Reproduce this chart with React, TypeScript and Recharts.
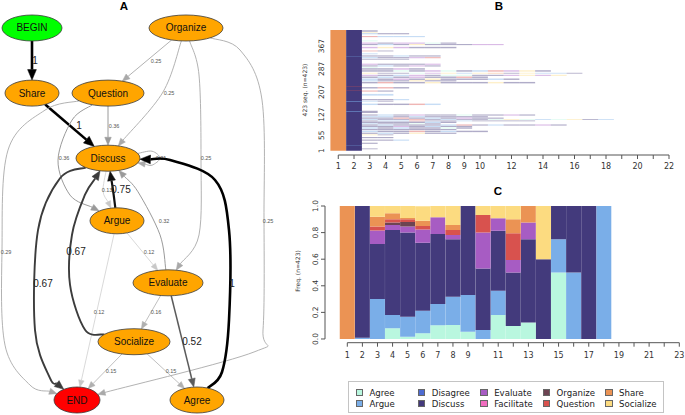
import React from 'react';
import {
  ScatterChart, Scatter, ComposedChart, BarChart, Bar, XAxis, YAxis,
  ReferenceLine, ReferenceArea, Legend,
} from 'recharts';

// ---------------- shared state alphabet ----------------
const STATES = ['Agree', 'Argue', 'Disagree', 'Discuss', 'Evaluate', 'Facilitate', 'Organize', 'Question', 'Share', 'Socialize'];
const STATE_CODE: Record<string, string> = {
  A: 'Agree', R: 'Argue', X: 'Disagree', D: 'Discuss', E: 'Evaluate',
  F: 'Facilitate', O: 'Organize', Q: 'Question', S: 'Share', Z: 'Socialize',
};

// ---------------- Panel A data (transition network) ----------------
const nodeNames = ['BEGIN', 'Organize', 'Share', 'Question', 'Discuss', 'Argue', 'Evaluate', 'Socialize', 'END', 'Agree'];
const nodeCol = [3.2, 18.6, 3.2, 10.8, 10.8, 11.7, 16.8, 13.4, 7.7, 19.7];
const nodeLevel = [0, 0, 1.05, 1.05, 2.1, 3.11, 4.11, 5.06, 6, 6];
const edgeList: [string, string, number][] = [
  ['BEGIN', 'Share', 1],
  ['Share', 'Discuss', 1],
  ['Organize', 'Question', 0.25],
  ['Organize', 'Discuss', 0.25],
  ['Organize', 'Evaluate', 0.25],
  ['Organize', 'END', 0.25],
  ['Question', 'Discuss', 0.36],
  ['Question', 'Argue', 0.36],
  ['Question', 'END', 0.29],
  ['Discuss', 'Discuss', 0.21],
  ['Discuss', 'Argue', 0.13],
  ['Discuss', 'END', 0.67],
  ['Argue', 'Discuss', 0.75],
  ['Argue', 'Evaluate', 0.12],
  ['Argue', 'END', 0.12],
  ['Evaluate', 'Discuss', 0.32],
  ['Evaluate', 'Socialize', 0.16],
  ['Evaluate', 'Agree', 0.52],
  ['Socialize', 'Discuss', 0.67],
  ['Socialize', 'END', 0.15],
  ['Socialize', 'Agree', 0.15],
  ['Agree', 'Discuss', 1],
];

// ---------------- Panel B data (sequence index plot) ----------------
const seqCount = 423;
const seqLeadStates = 'SD'; // positions 1 and 2 of every sequence
// [first seq, last seq, states from position 3 on]
const seqRuns: [number, number, string][] = [
  [418, 422, 'D'],
  [413, 415, 'Z'],
  [409, 412, 'RDD'],
  [399, 402, 'QRRR'],
  [384, 387, 'A'],
  [376, 379, 'EDEEAD'],
  [371, 374, 'DRDZDDDEE'],
  [360, 364, 'EZEDDD'],
  [349, 351, 'QD'],
  [339, 341, 'R'],
  [331, 334, 'DDRDD'],
  [325, 328, 'RDDEQ'],
  [320, 322, 'DDD'],
  [302, 305, 'EDDDE'],
  [296, 299, 'DRDED'],
  [291, 293, 'A'],
  [285, 289, 'DDED'],
  [278, 282, 'DDADEADRQEZD'],
  [271, 273, 'ZDDAEZRZSDZRRD'],
  [263, 266, 'EDREDAADDEZEZ'],
  [256, 260, 'DRDEDDQD'],
  [249, 253, 'RDEDZDDDRD'],
  [244, 247, 'RDDZDD'],
  [237, 241, 'DQDDZDDDZDD'],
  [219, 223, 'DQD'],
  [208, 211, 'QD'],
  [194, 199, 'RR'],
  [178, 181, 'DDR'],
  [173, 175, 'RD'],
  [161, 165, 'RDDQR'],
  [133, 140, 'D'],
  [124, 127, 'DRDEDDADDED'],
  [118, 121, 'RRDRDDDD'],
  [113, 116, 'DDQDRDEDD'],
  [109, 111, 'RDDQDRDDAZARAZDR'],
  [104, 106, 'DRRQDDRDDDD'],
  [98, 102, 'DDDDRD'],
  [94, 96, 'RDDAD'],
  [89, 92, 'DRDDDRQDRDDED'],
  [84, 87, 'DDEDRDD'],
  [78, 82, 'RDRDDAD'],
  [73, 76, 'DDDDDD'],
  [66, 70, 'RDDQDRDD'],
  [60, 63, 'DRDZDD'],
  [55, 57, 'ZD'],
  [45, 48, 'DD'],
  [36, 39, 'DDR'],
  [25, 28, 'D'],
  [6, 8, 'D'],
];
const seqPos2Exceptions: [number, string][] = [[330, 'R'], [225, 'Q'], [210, 'Q'], [172, 'R'], [137, 'R'], [20, 'R']];
const bXTicks = [1, 2, 3, 4, 5, 6, 7, 8, 9, 10, 11, 12, 13, 14, 15, 16, 17, 18, 19, 20, 21, 22];
const bYTicks = [1, 55, 127, 207, 287, 367];

// ---------------- Panel C data (state distribution) ----------------
const positions = [1, 2, 3, 4, 5, 6, 7, 8, 9, 10, 11, 12, 13, 14, 15, 16, 17, 18];
const agreeFreq = [0, 0, 0, 0.08, 0.017, 0.043, 0.103, 0.105, 0.055, 0, 0.18, 0.098, 0.123, 0, 0.5, 0, 0, 0];
const argueFreq = [0, 0.01, 0.30, 0.10, 0.15, 0.17, 0.16, 0.213, 0.275, 0.068, 0.183, 0, 0, 0, 0.25, 0.5, 0, 1];
const disagreeFreq = [0, 0, 0, 0, 0, 0, 0, 0, 0, 0, 0, 0, 0, 0, 0, 0, 0, 0];
const discussFreq = [0, 0.99, 0.415, 0.64, 0.633, 0.511, 0.527, 0.432, 0.67, 0.462, 0.451, 0.401, 0.627, 0.6, 0.25, 0.5, 1, 0];
const evaluateFreq = [0, 0, 0.10, 0.037, 0.045, 0.10, 0.125, 0.032, 0, 0.27, 0.093, 0.095, 0.125, 0, 0, 0, 0, 0];
const facilitateFreq = [0, 0, 0, 0, 0, 0, 0, 0, 0, 0, 0, 0, 0, 0, 0, 0, 0, 0];
const organizeFreq = [0, 0, 0, 0.018, 0.035, 0, 0, 0, 0, 0, 0, 0, 0, 0, 0, 0, 0, 0];
const questionFreq = [0, 0, 0.03, 0.025, 0.02, 0.025, 0, 0.038, 0, 0.132, 0, 0.201, 0, 0, 0, 0, 0, 0];
const shareFreq = [1, 0, 0.075, 0.045, 0.01, 0.04, 0, 0.037, 0, 0, 0, 0.105, 0.125, 0, 0, 0, 0, 0];
const socializeFreq = [0, 0, 0.08, 0.055, 0.09, 0.11, 0.085, 0.143, 0, 0.068, 0.093, 0.10, 0, 0.4, 0, 0, 0, 0];
const cXTicks = [1, 2, 3, 4, 5, 6, 7, 8, 9, 10, 11, 12, 13, 14, 15, 16, 17, 18, 19, 20, 21, 22, 23];
const cYTicks = [0, 0.2, 0.4, 0.6, 0.8, 1.0];

// ---------------- styles ----------------
const STATE_COLORS: Record<string, string> = {
  Agree: '#B9F7DF',
  Argue: '#7AAEE8',
  Disagree: '#4D6BD2',
  Discuss: '#433A7C',
  Evaluate: '#A75CC3',
  Facilitate: '#F06DBF',
  Organize: '#6D4452',
  Question: '#D8524E',
  Share: '#EB9354',
  Socialize: '#FCDB80',
};
const SANS = "'DejaVu Sans', sans-serif";
const HELV = "'Liberation Sans', Arial, sans-serif";

const NODE_STYLE: Record<string, { rx: number; ry: number; fill: string }> = {
  BEGIN: { rx: 30, ry: 13, fill: '#00FF00' },
  Organize: { rx: 37, ry: 13, fill: '#FFA500' },
  Share: { rx: 27, ry: 13, fill: '#FFA500' },
  Question: { rx: 36, ry: 13, fill: '#FFA500' },
  Discuss: { rx: 32, ry: 13, fill: '#FFA500' },
  Argue: { rx: 27, ry: 13, fill: '#FFA500' },
  Evaluate: { rx: 35, ry: 13, fill: '#FFA500' },
  Socialize: { rx: 36, ry: 13, fill: '#FFA500' },
  END: { rx: 23, ry: 13, fill: '#FF0000' },
  Agree: { rx: 27, ry: 13, fill: '#FFA500' },
};
// routing of curved edges: pixel offsets from the source node centre
const EDGE_VIA: Record<string, [number, number][]> = {
  'Organize-Discuss': [[-23, 64]],
  'Organize-Evaluate': [[13, 47], [15, 132], [13, 207]],
  'Organize-END': [[54, 22], [76, 72], [78, 192], [77, 302], [68, 324]],
  'Question-Argue': [[-36, 27], [-50, 67], [-38, 102]],
  'Question-END': [[-63, 17], [-100, 57], [-106, 157], [-103, 252], [-78, 292]],
  'Discuss-Discuss': [[44, -7], [52, 0], [44, 7]],
  'Discuss-Argue': [[-5, 33]],
  'Discuss-END': [[-48, 20], [-70, 72], [-73, 172], [-58, 220]],
  'Argue-Discuss': [[-4, -31]],
  'Evaluate-Discuss': [[-8, -48], [-30, -91]],
  'Socialize-Discuss': [[-49, -12], [-64, -57], [-62, -107], [-49, -147]],
  'Agree-Discuss': [[25, -28], [32, -80], [32, -170], [18, -220], [-27, -240]],
};
// edge label placement: pixel offsets from the source node centre
const EDGE_LABEL: Record<string, [number, number]> = {
  'BEGIN-Share': [3, 33],
  'Share-Discuss': [47, 32],
  'Organize-Question': [-30, 33],
  'Organize-Discuss': [-17, 65],
  'Organize-Evaluate': [20, 130],
  'Organize-END': [82, 193],
  'Question-Discuss': [6, 33],
  'Question-Argue': [-44, 65],
  'Question-END': [-102, 159],
  'Discuss-Discuss': [53, 0],
  'Discuss-Argue': [-1, 32],
  'Discuss-END': [-65, 125],
  'Argue-Discuss': [4, -31],
  'Argue-Evaluate': [32, 31],
  'Argue-END': [-18, 91],
  'Evaluate-Discuss': [-4, -62],
  'Evaluate-Socialize': [-12, 29],
  'Evaluate-Agree': [24, 59],
  'Socialize-Discuss': [-58, -90],
  'Socialize-END': [-23, 29],
  'Socialize-Agree': [37, 29],
  'Agree-Discuss': [35, -117],
};

function edgeLook(w: number) {
  if (w >= 0.9) return { width: 2.6, color: '#000000' };
  if (w >= 0.7) return { width: 2.2, color: '#111111' };
  if (w >= 0.6) return { width: 1.9, color: '#3c3c3c' };
  if (w >= 0.5) return { width: 1.5, color: '#5c5c5c' };
  if (w >= 0.3) return { width: 1.0, color: '#9a9a9a' };
  if (w >= 0.2) return { width: 0.9, color: '#a9a9a9' };
  if (w >= 0.14) return { width: 0.8, color: '#b0b0b0' };
  return { width: 0.7, color: '#c8c8c8' };
}

function boundaryPoint(cx: number, cy: number, tx: number, ty: number, rx: number, ry: number) {
  const dx = tx - cx;
  const dy = ty - cy;
  const len = Math.hypot(dx, dy) || 1;
  const ux = dx / len;
  const uy = dy / len;
  const t = 1 / Math.sqrt((ux / rx) ** 2 + (uy / ry) ** 2);
  return { x: cx + ux * t, y: cy + uy * t };
}

function smoothPath(pts: { x: number; y: number }[]) {
  let d = `M${pts[0].x},${pts[0].y}`;
  if (pts.length === 2) return d + `L${pts[1].x},${pts[1].y}`;
  for (let i = 0; i < pts.length - 1; i++) {
    const p0 = pts[i - 1] || pts[i];
    const p1 = pts[i];
    const p2 = pts[i + 1];
    const p3 = pts[i + 2] || pts[i + 1];
    const c1x = p1.x + (p2.x - p0.x) / 6;
    const c1y = p1.y + (p2.y - p0.y) / 6;
    const c2x = p2.x - (p3.x - p1.x) / 6;
    const c2y = p2.y - (p3.y - p1.y) / 6;
    d += `C${c1x},${c1y} ${c2x},${c2y} ${p2.x},${p2.y}`;
  }
  return d;
}

const EdgeShape = (props: any) => {
  const { x1, y1, x2, y2, edge } = props;
  if ([x1, y1, x2, y2].some((v) => typeof v !== 'number' || isNaN(v))) return null;
  const [from, to, w] = edge as [string, string, number];
  const key = `${from}-${to}`;
  const fs = NODE_STYLE[from];
  const ts = NODE_STYLE[to];
  const via = (EDGE_VIA[key] || []).map(([dx, dy]) => ({ x: x1 + dx, y: y1 + dy }));
  const first = via.length ? via[0] : { x: x2, y: y2 };
  const last = via.length ? via[via.length - 1] : { x: x1, y: y1 };
  const start = boundaryPoint(x1, y1, first.x, first.y, fs.rx, fs.ry);
  const tip = boundaryPoint(x2, y2, last.x, last.y, ts.rx, ts.ry);
  const prev = via.length ? via[via.length - 1] : start;
  const dx = tip.x - prev.x;
  const dy = tip.y - prev.y;
  const len = Math.hypot(dx, dy) || 1;
  const ux = dx / len;
  const uy = dy / len;
  const look = edgeLook(w);
  const aLen = 6.5 + 4 * w;
  const aHalf = 2.6 + 1.8 * w;
  const base = { x: tip.x - ux * aLen, y: tip.y - uy * aLen };
  const path = smoothPath([start, ...via, base]);
  const arrow = `${tip.x},${tip.y} ${base.x - uy * aHalf},${base.y + ux * aHalf} ${base.x + uy * aHalf},${base.y - ux * aHalf}`;
  const lab = EDGE_LABEL[key] || [0, 0];
  const big = w >= 0.5;
  return (
    <g>
      <path d={path} fill="none" stroke={look.color} strokeWidth={look.width} />
      <polygon points={arrow} fill={look.color} stroke={look.color} strokeWidth={0.5} />
      <text
        x={x1 + lab[0]}
        y={y1 + lab[1]}
        textAnchor="middle"
        dominantBaseline="central"
        fontFamily={HELV}
        fontSize={big ? 10 : 5.5}
        fill={big ? '#222222' : '#555555'}
        stroke="none"
      >
        {String(w)}
      </text>
    </g>
  );
};

const NodeShape = (props: any) => {
  const { cx, cy, payload } = props;
  if (typeof cx !== 'number' || typeof cy !== 'number') return null;
  const st = NODE_STYLE[payload.name];
  return (
    <g>
      <ellipse cx={cx} cy={cy} rx={st.rx} ry={st.ry} fill={st.fill} stroke="#3a3a3a" strokeWidth={0.8} />
      <text x={cx} y={cy} textAnchor="middle" dominantBaseline="central" fontFamily={HELV} fontSize={10} fill="#111" stroke="none">
        {payload.name}
      </text>
    </g>
  );
};

const nodeData = nodeNames.map((name, i) => ({ name, x: nodeCol[i], y: nodeLevel[i] }));
const nodeIndex: Record<string, number> = {};
nodeNames.forEach((n, i) => { nodeIndex[n] = i; });

function PanelA() {
  return (
    <ScatterChart width={290} height={415} margin={{ top: 0, right: 0, bottom: 0, left: 0 }}>
      <XAxis type="number" dataKey="x" domain={[0, 29]} allowDataOverflow hide />
      <YAxis type="number" dataKey="y" domain={[-0.4516, 6.2419]} allowDataOverflow reversed hide />
      {edgeList.map((e, i) => {
        const a = nodeIndex[e[0]];
        const b = nodeIndex[e[1]];
        return (
          <ReferenceLine
            key={`e${i}`}
            segment={[{ x: nodeCol[a], y: nodeLevel[a] }, { x: nodeCol[b], y: nodeLevel[b] }]}
            ifOverflow="visible"
            shape={(p: any) => <EdgeShape {...p} edge={e} />}
          />
        );
      })}
      <Scatter data={nodeData} isAnimationActive={false} shape={(p: any) => <NodeShape {...p} />} />
    </ScatterChart>
  );
}

// ---------------- Panel B ----------------
const B_LEFT = 290;
const BXTick = (props: any) => {
  const { x, payload } = props;
  const v = payload.value;
  if (!(v <= 10 || v % 2 === 0)) return <g />;
  return (
    <text x={x} y={169} textAnchor="middle" fontFamily={SANS} fontSize={8} fill="#333">{v}</text>
  );
};
const BYTick = (props: any) => {
  const { y, payload } = props;
  const bx = 324.5 - B_LEFT;
  return (
    <text x={bx} y={y} transform={`rotate(-90, ${bx}, ${y})`} textAnchor="middle" fontFamily={SANS} fontSize={7.5} fill="#333">
      {payload.value}
    </text>
  );
};

function PanelB() {
  const cells: any[] = [];
  for (let k = 0; k < seqLeadStates.length; k++) {
    const col = k + 1;
    cells.push(
      <ReferenceArea key={`lead${k}`} x1={col - 0.5} x2={col + 0.5} y1={0.5} y2={seqCount + 0.5}
        fill={STATE_COLORS[STATE_CODE[seqLeadStates[k]]]} fillOpacity={1} stroke="none" />,
    );
  }
  seqPos2Exceptions.forEach(([s, c], i) => {
    cells.push(
      <ReferenceArea key={`ex${i}`} x1={1.5} x2={2.5} y1={s - 0.5} y2={s + 0.5}
        fill={STATE_COLORS[STATE_CODE[c]]} fillOpacity={1} stroke="none" />,
    );
  });
  seqRuns.forEach(([s0, s1, states], r) => {
    for (let j = 0; j < states.length; j++) {
      const col = j + 3;
      cells.push(
        <ReferenceArea key={`r${r}_${j}`} x1={col - 0.5} x2={col + 0.5} y1={s0 - 0.5} y2={s1 + 0.5}
          fill={STATE_COLORS[STATE_CODE[states[j]]]} fillOpacity={0.42} stroke="none" />,
      );
    }
  });
  return (
    <ComposedChart width={395} height={185} margin={{ top: 30, right: 16, bottom: 10, left: 10.4 }}>
      <XAxis type="number" dataKey="x" domain={[0.5, 22]} allowDataOverflow ticks={bXTicks} interval={0}
        tickSize={4} tickLine={{ stroke: '#555' }} axisLine={false} height={20} tick={(p: any) => <BXTick {...p} />} />
      <YAxis type="number" domain={[-14.6, 423.5]} allowDataOverflow ticks={bYTicks} interval={0} width={30}
        axisLine={false} tickLine={false} tick={(p: any) => <BYTick {...p} />}
        label={{
          content: () => (
            <text x={307 - B_LEFT} y={90} transform={`rotate(-90, ${307 - B_LEFT}, 90)`} textAnchor="middle"
              fontFamily={SANS} fontSize={6} fill="#333">423 seq. (n=423)</text>
          ),
        }} />
      {cells}
      <ReferenceLine segment={[{ x: 1, y: -14.6 }, { x: 22, y: -14.6 }]} stroke="#555" strokeWidth={1} ifOverflow="visible" />
    </ComposedChart>
  );
}

// ---------------- Panel C ----------------
const C_LEFT = 290;
const C_TOP = 185;
const freqByState: Record<string, number[]> = {
  Agree: agreeFreq, Argue: argueFreq, Disagree: disagreeFreq, Discuss: discussFreq,
  Evaluate: evaluateFreq, Facilitate: facilitateFreq, Organize: organizeFreq,
  Question: questionFreq, Share: shareFreq, Socialize: socializeFreq,
};
const cData = positions.map((pos, i) => {
  const row: any = { pos };
  STATES.forEach((s) => { row[s] = freqByState[s][i]; });
  return row;
});

const CXTick = (props: any) => {
  const { x, payload } = props;
  const v = payload.value;
  if (!(v <= 9 || v % 2 === 1)) return <g />;
  return (
    <text x={x} y={357.5 - C_TOP} textAnchor="middle" fontFamily={SANS} fontSize={8} fill="#333">{v}</text>
  );
};
const CYTick = (props: any) => {
  const { y, payload } = props;
  const bx = 318 - C_LEFT;
  return (
    <text x={bx} y={y} transform={`rotate(-90, ${bx}, ${y})`} textAnchor="middle" fontFamily={SANS} fontSize={7.5} fill="#333">
      {Number(payload.value).toFixed(1)}
    </text>
  );
};

const LegendBox = (props: any) => {
  const payload = props.payload || [];
  return (
    <div style={{
      position: 'relative', width: 316, height: 32, boxSizing: 'border-box', border: '1px solid #c4c4c4',
      background: '#fff', fontFamily: SANS, fontSize: 8.6, color: '#222',
    }}>
      {payload.map((p: any, i: number) => {
        const col = Math.floor(i / 2);
        const row = i % 2;
        return (
          <div key={p.value} style={{ position: 'absolute', left: 6.5 + col * 62.4, top: 5.5 + row * 11, height: 10, display: 'flex', alignItems: 'center', whiteSpace: 'nowrap' }}>
            <span style={{ display: 'inline-block', width: 5.5, height: 5.5, background: p.color, border: '0.6px solid #666', marginRight: 6.4 }} />
            <span style={{ lineHeight: '10px' }}>{p.value}</span>
          </div>
        );
      })}
    </div>
  );
};

function PanelC() {
  return (
    <BarChart width={395} height={230} data={cData} margin={{ top: 21, right: 5.7, bottom: 52.3, left: 5 }}
      barCategoryGap={0} barGap={0}>
      <XAxis type="number" dataKey="pos" domain={[-0.478, 23]} allowDataOverflow ticks={cXTicks} interval={0}
        tickSize={4} tickLine={{ stroke: '#555' }} axisLine={false} height={20} tick={(p: any) => <CXTick {...p} />} />
      <YAxis type="number" domain={[-0.028, 1]} allowDataOverflow ticks={cYTicks} interval={0} width={30}
        tickSize={4} tickLine={{ stroke: '#555' }} axisLine={false} tick={(p: any) => <CYTick {...p} />}
        label={{
          content: () => (
            <text x={300 - C_LEFT} y={271 - C_TOP} transform={`rotate(-90, ${300 - C_LEFT}, ${271 - C_TOP})`} textAnchor="middle"
              fontFamily={SANS} fontSize={6} fill="#333">Freq. (n=423)</text>
          ),
        }} />
      {STATES.map((s) => (
        <Bar key={s} dataKey={s} name={s} stackId="d" fill={STATE_COLORS[s]} isAnimationActive={false} legendType="square" />
      ))}
      <ReferenceLine segment={[{ x: 1, y: -0.028 }, { x: 23, y: -0.028 }]} stroke="#555" ifOverflow="visible" />
      <ReferenceLine segment={[{ x: -0.478, y: 0 }, { x: -0.478, y: 1 }]} stroke="#555" ifOverflow="visible" />
      <Legend layout="vertical" align="center" verticalAlign="middle"
        wrapperStyle={{ left: 348 - C_LEFT, top: 381 - C_TOP, width: 316, height: 32 }}
        content={(p: any) => <LegendBox {...p} />} />
    </BarChart>
  );
}

export default function App() {
  return (
    <div style={{ position: 'absolute', left: 0, top: 0, width: 685, height: 415, overflow: 'hidden', background: '#fff' }}>
      <div style={{ position: 'absolute', left: 0, top: 0 }}><PanelA /></div>
      <div style={{ position: 'absolute', left: B_LEFT, top: 0 }}><PanelB /></div>
      <div style={{ position: 'absolute', left: C_LEFT, top: C_TOP }}><PanelC /></div>
      <svg width={685} height={415} style={{ position: 'absolute', left: 0, top: 0, pointerEvents: 'none' }}>
        <text x={124} y={10} textAnchor="middle" fontFamily={HELV} fontWeight="bold" fontSize={11.5} fill="#000">A</text>
        <text x={499} y={10} textAnchor="middle" fontFamily={HELV} fontWeight="bold" fontSize={11.5} fill="#000">B</text>
        <text x={498} y={195} textAnchor="middle" fontFamily={HELV} fontWeight="bold" fontSize={11.5} fill="#000">C</text>
      </svg>
    </div>
  );
}
